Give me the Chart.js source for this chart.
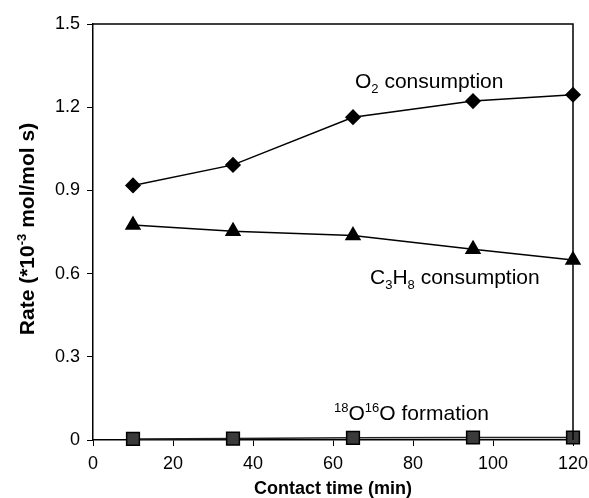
<!DOCTYPE html>
<html>
<head>
<meta charset="utf-8">
<script src="https://cdn.jsdelivr.net/npm/chart.js@4"></script>
<style>
  html, body { margin: 0; padding: 0; background: #fff; }
  #wrap { width: 589px; height: 498px; }
</style>
</head>
<body>
<div id="wrap"><canvas id="c" width="589" height="498"></canvas></div>
<script>
// Contact time (min)
const contactTime = [10, 35, 65, 95, 120];
// Rates, *10^-3 mol/mol s
const o2Consumption = [0.918, 0.992, 1.164, 1.222, 1.245];
const c3h8Consumption = [0.775, 0.753, 0.737, 0.688, 0.649];
const o18o16Formation = [0.004, 0.005, 0.008, 0.009, 0.009];
// Axis ticks
const xTicks = [0, 20, 40, 60, 80, 100, 120];
const yTicks = [0, 0.3, 0.6, 0.9, 1.2, 1.5];

const FONT = '"Liberation Sans", Arial, Helvetica, sans-serif';

function pts(xs, ys) { return xs.map((x, i) => ({ x: x, y: ys[i] })); }

// Draws a run of [text, mode] pieces; mode: 'n' normal, 'sub', 'sup'
function drawRich(ctx, pieces, x, y, size, weight) {
  let cx = x;
  pieces.forEach(([t, mode]) => {
    let s = size, dy = 0;
    if (mode === 'sub') { s = size * 0.62; dy = size * 0.22; }
    if (mode === 'sup') { s = size * 0.62; dy = -size * 0.38; }
    ctx.font = (weight || '') + ' ' + s + 'px ' + FONT;
    ctx.fillText(t, cx, y + dy);
    cx += ctx.measureText(t).width;
  });
  return cx - x;
}
function richWidth(ctx, pieces, size, weight) {
  let w = 0;
  pieces.forEach(([t, mode]) => {
    const s = mode === 'n' ? size : size * 0.62;
    ctx.font = (weight || '') + ' ' + s + 'px ' + FONT;
    w += ctx.measureText(t).width;
  });
  return w;
}

// Series labels, anchored in data coordinates (left edge, baseline)
const seriesLabels = [
  { x: 65.5, y: 1.269, pieces: [['O', 'n'], ['2', 'sub'], [' consumption', 'n']] },
  { x: 69.25, y: 0.5625, pieces: [['C', 'n'], ['3', 'sub'], ['H', 'n'], ['8', 'sub'], [' consumption', 'n']] },
  { x: 60.25, y: 0.072, pieces: [['18', 'sup'], ['O', 'n'], ['16', 'sup'], ['O formation', 'n']] }
];

const decorations = {
  id: 'decorations',
  afterDraw(chart) {
    const ctx = chart.ctx;
    const area = chart.chartArea;
    const xs = chart.scales.x, ys = chart.scales.y;
    ctx.save();
    // top and right frame lines
    ctx.strokeStyle = '#000';
    ctx.lineWidth = 1.5;
    ctx.beginPath();
    ctx.moveTo(area.left, area.top);
    ctx.lineTo(area.right, area.top);
    ctx.lineTo(area.right, area.bottom);
    ctx.stroke();

    ctx.fillStyle = '#000';
    ctx.textBaseline = 'alphabetic';
    ctx.textAlign = 'left';
    seriesLabels.forEach(l => {
      drawRich(ctx, l.pieces, xs.getPixelForValue(l.x), ys.getPixelForValue(l.y), 21, '');
    });

    // x axis title
    const xt = [['Contact time (min)', 'n']];
    const xw = richWidth(ctx, xt, 18, 'bold');
    drawRich(ctx, xt, (area.left + area.right) / 2 - xw / 2, 494, 18, 'bold');

    // y axis title (rotated)
    const yt = [['Rate (*10', 'n'], ['-3', 'sup'], [' mol/mol s)', 'n']];
    const yw = richWidth(ctx, yt, 21, 'bold');
    ctx.translate(34, 229);
    ctx.rotate(-Math.PI / 2);
    drawRich(ctx, yt, -yw / 2, 0, 21, 'bold');
    ctx.restore();
  }
};

new Chart(document.getElementById('c'), {
  type: 'line',
  data: {
    datasets: [
      {
        label: 'O2 consumption',
        data: pts(contactTime, o2Consumption),
        borderColor: '#000', borderWidth: 1.5, clip: false,
        pointStyle: 'rectRot', pointRadius: 7,
        pointBackgroundColor: '#000', pointBorderColor: '#000'
      },
      {
        label: 'C3H8 consumption',
        data: pts(contactTime, c3h8Consumption),
        borderColor: '#000', borderWidth: 1.5, clip: false,
        pointStyle: 'triangle', pointRadius: 8,
        pointBackgroundColor: '#000', pointBorderColor: '#000'
      },
      {
        label: '18O16O formation',
        data: pts(contactTime, o18o16Formation),
        borderColor: '#222', borderWidth: 1.5, clip: false,
        pointStyle: 'rect', pointRadius: 9,
        pointBackgroundColor: '#3a3a3a', pointBorderColor: '#000', pointBorderWidth: 1.5
      }
    ]
  },
  options: {
    responsive: false,
    animation: false,
    devicePixelRatio: 1,
    layout: { padding: { left: 0, top: 24, right: 16, bottom: 0 } },
    plugins: { legend: { display: false }, tooltip: { enabled: false } },
    scales: {
      x: {
        type: 'linear', min: 0, max: 120,
        afterFit(s) { s.height = 58; s.paddingLeft = 0; s.paddingRight = 0; },
        afterBuildTicks(s) { s.ticks = xTicks.map(v => ({ value: v })); },
        ticks: { color: '#000', font: { family: FONT, size: 18 }, padding: 7, maxRotation: 0 },
        grid: { drawOnChartArea: false, tickLength: 6, color: '#000', tickColor: '#000' },
        border: { color: '#000', width: 1.5 }
      },
      y: {
        type: 'linear', min: 0, max: 1.5,
        afterFit(s) { s.width = 93; s.paddingTop = 0; s.paddingBottom = 0; },
        afterBuildTicks(s) { s.ticks = yTicks.map(v => ({ value: v })); },
        ticks: {
          color: '#000', font: { family: FONT, size: 18 }, padding: 7,
          callback: v => (v === 0 ? '0' : v.toFixed(1))
        },
        grid: { drawOnChartArea: false, tickLength: 6, color: '#000', tickColor: '#000' },
        border: { color: '#000', width: 1.5 }
      }
    }
  },
  plugins: [decorations]
});
</script>
</body>
</html>
